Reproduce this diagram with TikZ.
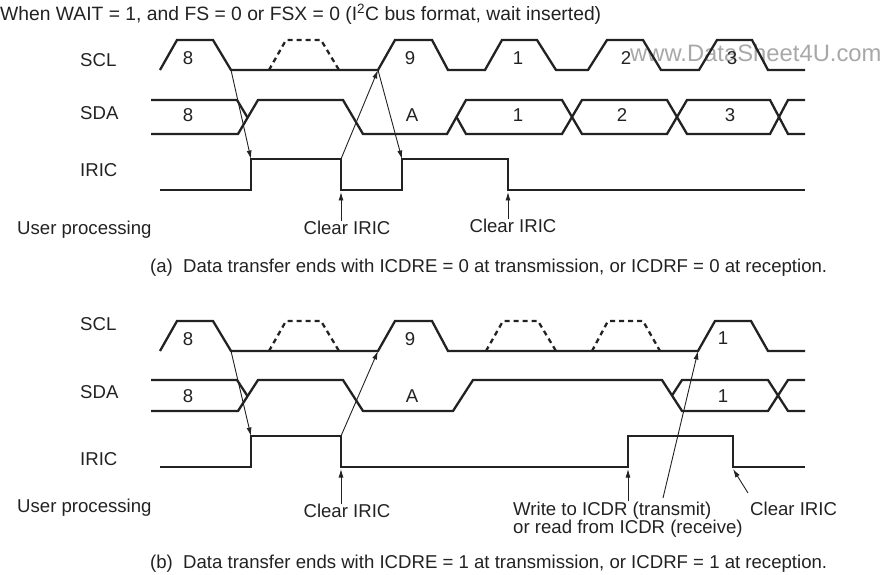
\documentclass[tikz,border=0pt]{standalone}
\usepackage{fontspec}
\setmainfont{Liberation Sans}
\usepackage{xcolor}
\definecolor{ink}{HTML}{222222}
\definecolor{wmgray}{HTML}{A8A8A8}
\usepackage{tikz}
\usetikzlibrary{arrows.meta,positioning,calc}
\tikzset{
    wave/.style={draw=ink, line width=2.3pt},
    wave_dash/.style={draw=ink, line width=2.3pt, dash pattern=on 5pt off 4pt},
    cue/.style={draw=ink, line width=0.9pt, -{Latex[length=8.5pt, width=5pt]}},
    sig_label/.style={font=\fontsize{18.6}{20}\selectfont, text=ink, inner sep=0pt, anchor=base west},
    bit_label/.style={font=\fontsize{18.6}{20}\selectfont, text=ink, inner sep=0pt, anchor=base}
}

\begin{document}
\begin{tikzpicture}[x=1pt, y=-1pt]
  \useasboundingbox (0,0) rectangle (884,575);

  % Heading and watermark
  \node[sig_label, font=\fontsize{19.3}{21}\selectfont] (heading) at (0,21) {When WAIT = 1, and FS = 0 or FSX = 0 (I\textsuperscript{2}C bus format, wait inserted)};
  \node[font=\fontsize{23.8}{25}\selectfont, text=wmgray, inner sep=0pt, anchor=base west] (watermark) at (630,62) {www.DataSheet4U.com};

  % ===== (a) ICDRE = 0 / ICDRF = 0 =====
  \node[sig_label] (scl_a) at (80,67) {SCL};
  \node[sig_label] (sda_a) at (80,120) {SDA};
  \node[sig_label] (iric_a) at (80,177) {IRIC};
  \node[sig_label] (user_a) at (17,234) {User processing};

  % SCL
  \draw[wave] (160,70) -- (177,40) -- (213,40) -- (231,70) -- (378,70) -- (395,40) -- (432,40) -- (448,70)
    -- (485,70) -- (502,40) -- (537,40) -- (556,70) -- (588,70) -- (607,40) -- (643,40) -- (661,70)
    -- (699,70) -- (717,40) -- (752,40) -- (768,70) -- (805,70);
  \draw[wave_dash] (269,70) -- (286,40) -- (321,40) -- (339,70);
  \node[bit_label] (scl_a8) at (188,65) {8};
  \node[bit_label] (scl_a9) at (410,65) {9};
  \node[bit_label] (scl_a1) at (518,65) {1};
  \node[bit_label] (scl_a2) at (626,65) {2};
  \node[bit_label] (scl_a3) at (732,65) {3};

  % SDA
  \draw[wave] (151,100) -- (237,100) -- (247.5,117.5);
  \draw[wave] (151,134) -- (238,134) -- (258,100) -- (343,100) -- (363,134) -- (447,134) -- (466,100)
    -- (562,100) -- (582,134) -- (667,134) -- (687,100) -- (770,100) -- (788,134) -- (805,134);
  \draw[wave] (456.5,117) -- (466,134) -- (562,134) -- (582,100) -- (667,100) -- (687,134) -- (770,134)
    -- (788,100) -- (805,100);
  \node[bit_label] (sda_a8) at (188,122) {8};
  \node[bit_label] (sda_aa) at (412,122) {A};
  \node[bit_label] (sda_a1) at (518,122) {1};
  \node[bit_label] (sda_a2) at (622,122) {2};
  \node[bit_label] (sda_a3) at (730,122) {3};

  % IRIC
  \draw[wave] (160,190) -- (251,190) -- (251,159) -- (341,159) -- (341,190) -- (402,190) -- (402,159)
    -- (508,159) -- (508,190) -- (805,190);

  % Causes
  \coordinate (a_f8) at (231,70);
  \coordinate (a_r9) at (378,70);
  \coordinate (a_up1) at (251,159);
  \coordinate (a_dn1) at (341,159);
  \coordinate (a_up2) at (402,159);
  \coordinate (a_lo1) at (341,192);
  \coordinate (a_lo2) at (508,192);
  \draw[cue] (a_f8) -- (a_up1);
  \draw[cue] (a_dn1) -- (a_r9);
  \draw[cue] (a_r9) -- (a_up2);

  \node[bit_label] (clr_a1) at (347,234) {Clear IRIC};
  \node[bit_label] (clr_a2) at (513,232) {Clear IRIC};
  \draw[cue] ([yshift=-1pt]clr_a1.north -| a_lo1) -- (a_lo1);
  \draw[cue] ([yshift=-1pt]clr_a2.north -| a_lo2) -- (a_lo2);

  \node[sig_label] (cap_a) at (150,272) {(a)\hspace{0.55em}Data transfer ends with ICDRE = 0 at transmission, or ICDRF = 0 at reception.};

  % ===== (b) ICDRE = 1 / ICDRF = 1 =====
  \node[sig_label] (scl_b) at (80,330) {SCL};
  \node[sig_label] (sda_b) at (80,398) {SDA};
  \node[sig_label] (iric_b) at (80,465) {IRIC};
  \node[sig_label] (user_b) at (17,512) {User processing};

  % SCL
  \draw[wave] (160,351) -- (177,321) -- (213,321) -- (231,351) -- (378,351) -- (395,321) -- (432,321)
    -- (448,351) -- (698,351) -- (715,321) -- (751,321) -- (768,351) -- (805,351);
  \draw[wave_dash] (269,351) -- (286,321) -- (321,321) -- (339,351);
  \draw[wave_dash] (486,351) -- (503,321) -- (538,321) -- (556,351);
  \draw[wave_dash] (592,351) -- (608,321) -- (643,321) -- (660,351);
  \node[bit_label] (scl_b8) at (188,345) {8};
  \node[bit_label] (scl_b9) at (410,345) {9};
  \node[bit_label] (scl_b1) at (723,344) {1};

  % SDA
  \draw[wave] (151,380) -- (237,380) -- (247.5,396);
  \draw[wave] (151,411) -- (238,411) -- (258,380) -- (343,380) -- (363,411) -- (453,411) -- (473,380)
    -- (662,380) -- (682,411) -- (768,411) -- (788,380) -- (805,380);
  \draw[wave] (672,395.5) -- (682,380) -- (768,380) -- (788,411) -- (805,411);
  \node[bit_label] (sda_b8) at (188,402) {8};
  \node[bit_label] (sda_ba) at (412,402) {A};
  \node[bit_label] (sda_b1) at (723,402) {1};

  % IRIC
  \draw[wave] (160,467) -- (251,467) -- (251,436) -- (341,436) -- (341,467) -- (628,467) -- (628,436)
    -- (733,436) -- (733,467) -- (805,467);

  % Causes
  \coordinate (b_f8) at (231,351);
  \coordinate (b_r9) at (378,351);
  \coordinate (b_r1) at (698,351);
  \coordinate (b_up1) at (251,436);
  \coordinate (b_dn1) at (341,436);
  \coordinate (b_lo1) at (341,469);
  \coordinate (b_lo2) at (628,469);
  \coordinate (b_lo3) at (733,469);
  \coordinate (b_wr) at (663,498);
  \coordinate (b_clr) at (748,493);
  \draw[cue] (b_f8) -- (b_up1);
  \draw[cue] (b_dn1) -- (b_r9);
  \draw[cue] (b_wr) -- (b_r1);

  \node[bit_label] (clr_b1) at (347,517) {Clear IRIC};
  \node[sig_label] (wr_b1) at (513,515) {Write to ICDR (transmit)};
  \node[sig_label] (wr_b2) at (513,533) {or read from ICDR (receive)};
  \node[sig_label] (clr_b2) at (750,515) {Clear IRIC};
  \draw[cue] ([yshift=-1pt]clr_b1.north -| b_lo1) -- (b_lo1);
  \draw[cue] (wr_b1.north -| b_lo2) -- (b_lo2);
  \draw[cue] (b_clr) -- (b_lo3);

  \node[sig_label] (cap_b) at (150,568) {(b)\hspace{0.55em}Data transfer ends with ICDRE = 1 at transmission, or ICDRF = 1 at reception.};

\end{tikzpicture}
\end{document}
